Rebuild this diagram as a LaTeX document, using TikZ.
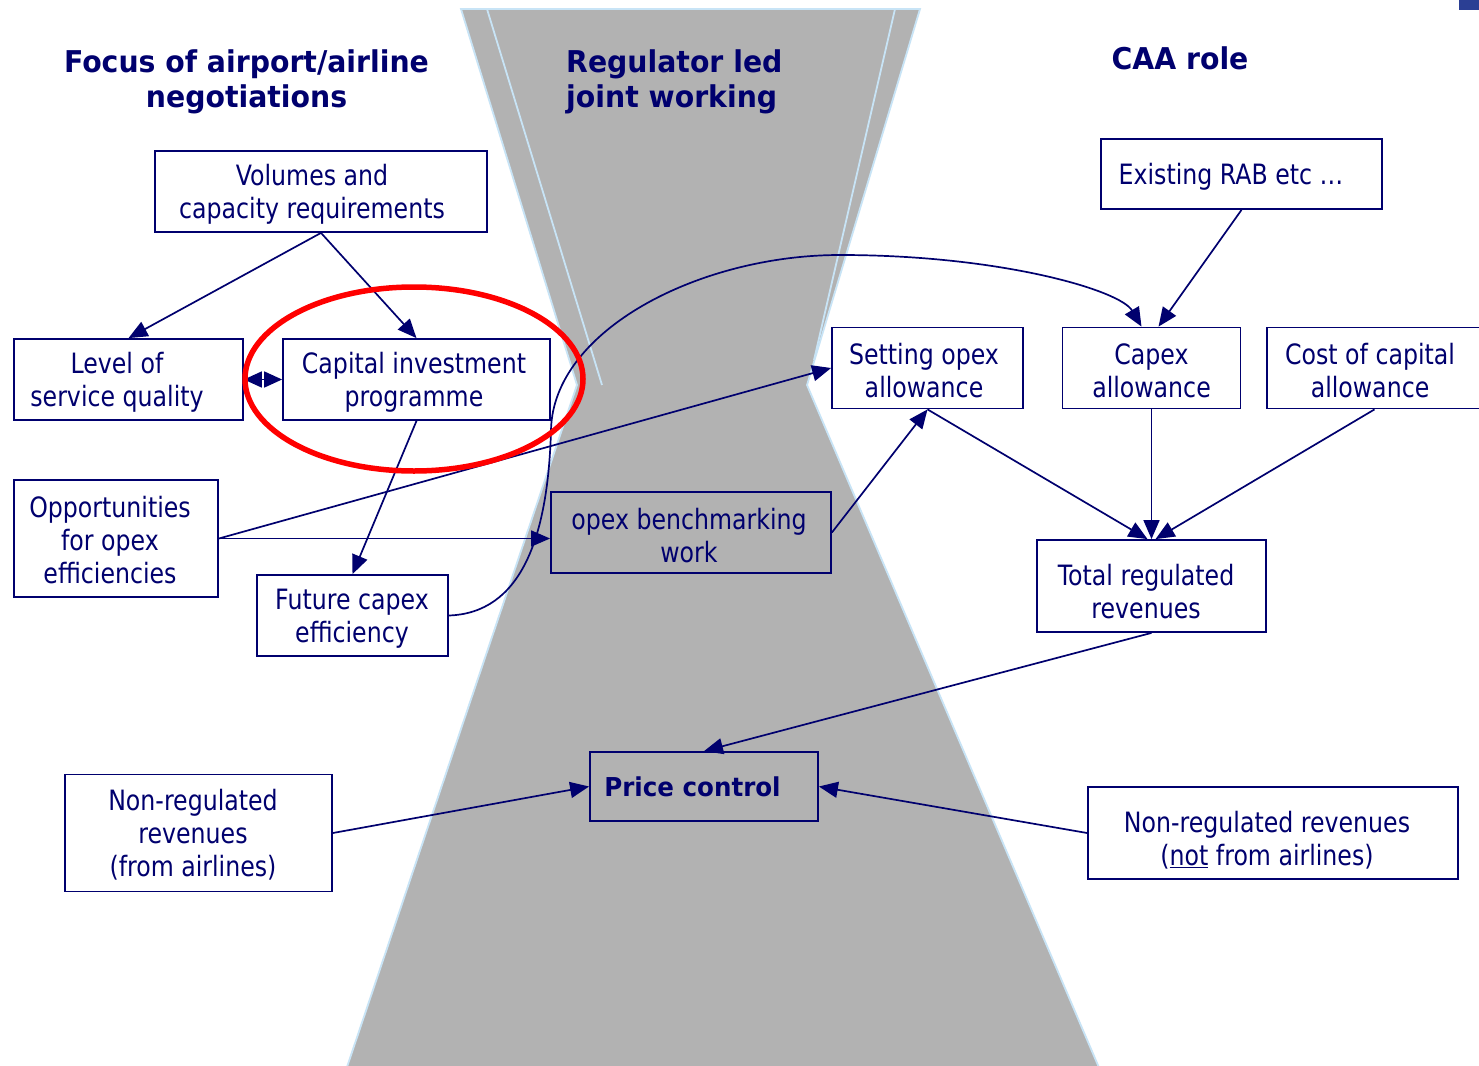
\documentclass[tikz,border=0pt]{standalone}
\usepackage{fontspec}
\setmainfont{DejaVu Sans}[FakeStretch=0.845]
\newfontfamily\headfont{DejaVu Sans}[FakeStretch=0.944]
\usetikzlibrary{arrows.meta}
\definecolor{dnavy}{RGB}{0,0,110}
\definecolor{hgray}{RGB}{178,178,178}
\definecolor{lblue}{RGB}{200,228,246}
\definecolor{cornerblue}{RGB}{43,63,148}
\tikzset{
  box/.style={draw=dnavy, line width=1.8pt, inner sep=0pt},
  txt/.style={text=dnavy, align=center, inner sep=0pt, font=\fontsize{28}{33}\selectfont},
  head/.style={text=dnavy, inner sep=0pt, font=\headfont\bfseries\fontsize{30}{35}\selectfont},
  conn/.style={draw=dnavy, line width=1.7pt, -{Triangle[length=19pt,width=16pt]}},
  dconn/.style={draw=dnavy, line width=1.7pt, {Triangle[length=18pt,width=16pt]}-{Triangle[length=18pt,width=16pt]}},
  lightline/.style={draw=lblue, line width=1.8pt}
}
\begin{document}
\begin{tikzpicture}[x=1pt,y=-1pt]
\useasboundingbox (0,0) rectangle (1479,1065);
\clip (0,0) rectangle (1479,1065);
\fill[white] (0,0) rectangle (1479,1065);
% hourglass background
\filldraw[fill=hgray, draw=lblue, line width=1.8pt]
  (461,9) -- (920,9) -- (807,385) -- (1100,1070) -- (346,1070) -- (577,385) -- cycle;
\draw[lightline] (487,9) -- (602,385);
\draw[lightline] (895,9) -- (814,360);
% corner mark
\fill[cornerblue] (1459,0) rectangle (1479,10);

% headings
\node[head, align=center] (h1) at (246.5,81.5) {Focus of airport/airline\\negotiations};
\node[head, align=left, anchor=west] (h2) at (566,81.5) {Regulator led\\joint working};
\node[head] (h3) at (1180,58) {CAA role};

% boxes
\node[box, minimum width=332pt, minimum height=81pt] (vol) at (321,191.5) {};
\node[txt] (volt) at (312,194.5) {Volumes and\\capacity requirements};
\node[box, minimum width=229pt, minimum height=81pt] (lev) at (128.5,379.5) {};
\node[txt] (levt) at (117,382) {Level of\\service quality};
\node[box, minimum width=267pt, minimum height=81pt] (cap) at (416.5,379.5) {};
\node[txt] (capt) at (414,382) {Capital investment\\programme};
\node[box, minimum width=204pt, minimum height=117pt] (opp) at (116,538.5) {};
\node[txt] (oppt) at (110,540) {Opportunities\\for opex\\efficiencies};
\node[box, minimum width=191pt, minimum height=81pt] (fut) at (352.5,615.5) {};
\node[txt] (futt) at (352,618.5) {Future capex\\efficiency};
\node[box, minimum width=280pt, minimum height=81pt] (bench) at (691,532.5) {};
\node[txt] (bencht) at (689,535.5) {opex benchmarking\\work};
\node[box, minimum width=191pt, minimum height=81pt] (setop) at (927.5,368) {};
\node[txt] (setopt) at (924,370.5) {Setting opex\\allowance};
\node[box, minimum width=178pt, minimum height=81pt] (capx) at (1151.5,368) {};
\node[txt] (capxt) at (1151.5,370.5) {Capex\\allowance};
\node[box, minimum width=223pt, minimum height=81pt] (cocb) at (1378.5,368) {};
\node[txt] (coct) at (1370,370.5) {Cost of capital\\allowance};
\node[box, minimum width=281pt, minimum height=70pt] (rab) at (1241.5,174) {};
\node[txt] (rabt) at (1231,176.5) {Existing RAB etc …};
\node[box, minimum width=229pt, minimum height=92pt] (tot) at (1151.5,586) {};
\node[txt] (tott) at (1146,591.5) {Total regulated\\revenues};
\node[box, minimum width=228pt, minimum height=69pt] (price) at (704,786.5) {};
\node[txt, font=\headfont\bfseries\fontsize{26}{31}\selectfont] (pricet) at (692.5,787) {Price control};
\node[box, minimum width=267pt, minimum height=117pt] (nr1) at (198.5,833) {};
\node[txt] (nr1t) at (193,835) {Non-regulated\\revenues\\(from airlines)};
\node[box, minimum width=370pt, minimum height=92pt] (nr2) at (1273,833) {};
\node[txt] (nr2t) at (1267,840.5) {Non-regulated revenues\\(\underline{not} from airlines)};

% connectors
\draw[conn] (vol.south) -- (lev.north);
\draw[conn] (vol.south) -- (cap.north);
\draw[dconn] (lev.east) -- (cap.west);
\draw[conn] (cap.south) -- (fut.north);
\draw[conn] (opp.east) -- (opp.east -| bench.west);
\draw[conn] (opp.east) -- (setop.west);
\draw[conn] (fut.east) .. controls (520,613) and (548,540) .. (551,430)
  .. controls (553,330) and (700,255) .. (840,255)
  .. controls (1000,255) and (1120,290) .. ([xshift=-10pt]capx.north);
\draw[conn] (rab.south) -- ([xshift=7pt]capx.north);
\draw[conn] (bench.east) -- (setop.south);
\draw[conn] (setop.south) -- ([xshift=-4pt]tot.north);
\draw[conn] (capx.south) -- (tot.north);
\draw[conn] ([xshift=-4pt]cocb.south) -- ([xshift=4pt]tot.north);
\draw[conn] (tot.south) -- (price.north);
\draw[conn] (nr1.east) -- (price.west);
\draw[conn] (nr2.west) -- (price.east);

% red highlight
\draw[red, line width=5.5pt] (414,379) ellipse [x radius=169pt, y radius=92pt];
\end{tikzpicture}
\end{document}
